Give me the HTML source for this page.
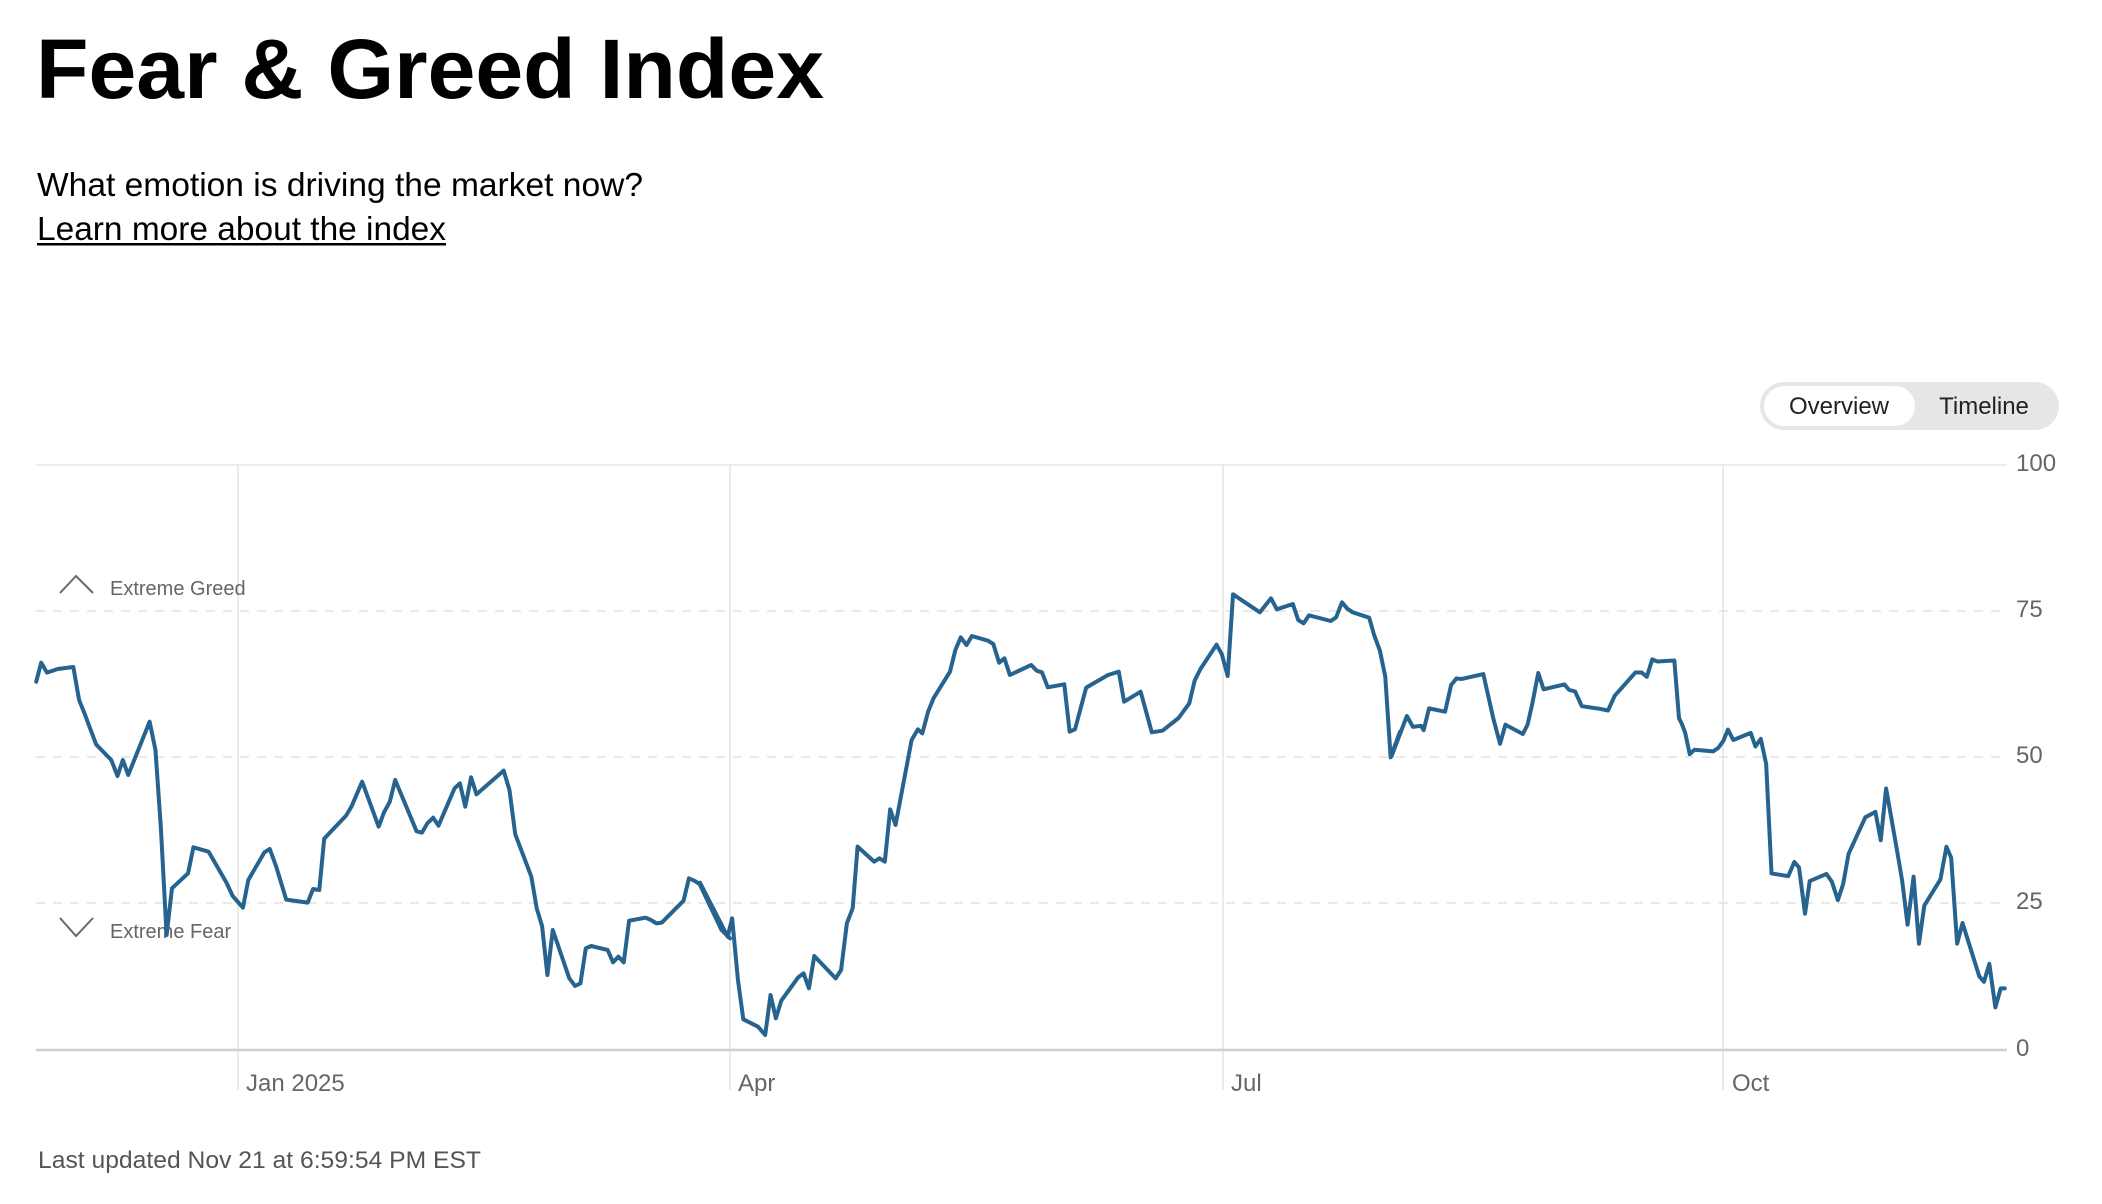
<!DOCTYPE html>
<html><head><meta charset="utf-8"><style>html,body{margin:0;padding:0;background:#fff;}svg{display:block;}</style></head>
<body>
<svg width="2102" height="1204" viewBox="0 0 2102 1204" xmlns="http://www.w3.org/2000/svg" font-family="Liberation Sans, Arial, sans-serif">
<rect width="2102" height="1204" fill="#fff"/>
<text x="36" y="98" font-size="84" font-weight="bold" fill="#000" textLength="788" lengthAdjust="spacingAndGlyphs">Fear &amp; Greed Index</text>
<text x="37" y="196" font-size="33" fill="#000" textLength="606" lengthAdjust="spacingAndGlyphs">What emotion is driving the market now?</text>
<text x="37" y="240" font-size="33" fill="#000" textLength="409" lengthAdjust="spacingAndGlyphs">Learn more about the index</text>
<rect x="37" y="243" width="409" height="2.5" fill="#000"/>
<!-- toggle -->
<rect x="1760" y="382" width="299" height="48" rx="24" fill="#e6e6e6"/>
<rect x="1764" y="386" width="151" height="40" rx="20" fill="#fff"/>
<text x="1839" y="414" font-size="24" fill="#222" text-anchor="middle">Overview</text>
<text x="1984" y="414" font-size="24" fill="#222" text-anchor="middle">Timeline</text>
<!-- grid -->
<line x1="36" y1="465" x2="2007" y2="465" stroke="#e6e6e6" stroke-width="1.5"/>
<g stroke="#e2e2e2" stroke-width="1.5" stroke-dasharray="9,8">
<line x1="36" y1="611" x2="2007" y2="611"/>
<line x1="36" y1="757" x2="2007" y2="757"/>
<line x1="36" y1="903" x2="2007" y2="903"/>
</g>
<g stroke="#e3e3e3" stroke-width="1.5">
<line x1="238" y1="465" x2="238" y2="1090"/>
<line x1="730" y1="465" x2="730" y2="1090"/>
<line x1="1223" y1="465" x2="1223" y2="1090"/>
<line x1="1723" y1="465" x2="1723" y2="1090"/>
</g>
<line x1="36" y1="1050" x2="2007" y2="1050" stroke="#cfcfcf" stroke-width="2.5"/>
<g font-size="24" fill="#666">
<text x="2016" y="471">100</text>
<text x="2016" y="617">75</text>
<text x="2016" y="763">50</text>
<text x="2016" y="909">25</text>
<text x="2016" y="1056">0</text>
<text x="246" y="1091">Jan 2025</text>
<text x="738" y="1091">Apr</text>
<text x="1231" y="1091">Jul</text>
<text x="1732" y="1091">Oct</text>
</g>
<!-- zones -->
<polyline points="60,593 76,576 93,593" fill="none" stroke="#666" stroke-width="2"/>
<text x="110" y="595" font-size="20" fill="#666">Extreme Greed</text>
<polyline points="60,918 76,936 93,918" fill="none" stroke="#666" stroke-width="2"/>
<text x="110" y="938" font-size="20" fill="#666">Extreme Fear</text>
<!-- series -->
<g fill="none" stroke="#26638f" stroke-width="4" stroke-linejoin="round" stroke-linecap="round">
<g transform="translate(30,560) scale(0.44643,0.33333)">
<polyline vector-effect="non-scaling-stroke" points="14,365 25,308 38,338 62,327 97,321 110,420 122,460 148,553 182,600 196,648 208,600 220,645 268,485 281,570 293,800 306,1125 318,985 354,940 366,862 400,875 440,968 454,1008 477,1043 489,960 525,877 537,867 551,918 574,1019 622,1028 634,987 648,990 659,836 708,767 720,740 744,665 781,800 793,757 806,725 818,660 866,814 878,818 890,790 903,773 915,797 951,685 963,670 975,740 988,652 1000,703 1061,632 1074,690 1087,823 1123,950 1135,1045 1147,1098 1159,1245 1171,1110 1208,1255 1221,1278 1233,1270 1245,1165 1257,1158 1294,1170 1306,1207 1318,1190 1330,1207 1342,1082 1379,1073 1391,1080 1403,1090 1415,1088 1464,1022 1476,955 1488,962 1500,972 1549,1110 1568,1135"/>
</g>
<g transform="translate(700,560) scale(0.44643,0.33333)">
<polyline vector-effect="non-scaling-stroke" points="0,968 62,1130 72,1075 85,1260 97,1378 130,1400 146,1425 158,1305 170,1375 182,1322 220,1252 232,1240 244,1285 256,1188 304,1255 316,1230 329,1090 342,1045 353,860 390,905 402,895 414,905 426,748 438,795 474,540 488,508 498,520 511,455 523,415 560,335 572,270 584,232 597,255 609,228 645,242 657,252 670,308 682,295 694,345 742,315 754,332 766,337 779,382 816,373 828,515 840,508 865,383 914,345 938,335 950,425 987,395 1012,517 1036,512 1072,474 1096,430 1108,362 1121,327 1157,254 1169,283 1182,348 1194,103 1254,157 1279,115 1292,148 1328,132 1340,180 1352,190 1364,166 1413,183 1425,172 1438,127 1450,146 1462,157 1499,173 1510,225 1523,272 1535,350 1547,592 1568,515"/>
</g>
<g transform="translate(1051,350) scale(0.67024,0.54466)">
<polyline vector-effect="non-scaling-stroke" points="508,746 531,672 540,692 552,690 556,698 564,658 588,664 597,615 605,603 613,604 645,595 660,677 670,723 678,688 704,705 711,688 718,650 727,593 735,623 766,614 773,624 782,627 792,654 820,659 831,662 841,635 872,592 881,592 889,600 897,568 905,572 930,570 937,676 941,686 946,702 953,742 960,734 988,737 996,730 1003,718 1010,697 1018,716 1044,703 1051,728 1059,714 1067,760 1075,961 1100,966 1109,940 1116,950 1125,1035 1132,975 1157,962 1165,976 1174,1010 1182,980 1190,925 1215,858 1230,848 1238,900 1246,805 1262,917 1270,975 1278,1055 1287,967 1295,1090 1303,1020 1327,972 1336,912 1343,932 1352,1090 1360,1052 1385,1150 1392,1160 1400,1127 1409,1207 1417,1172 1423,1172"/>
</g>
</g>
<text x="38" y="1168" font-size="24" fill="#555" textLength="443" lengthAdjust="spacingAndGlyphs">Last updated Nov 21 at 6:59:54 PM EST</text>
</svg>
</body></html>
